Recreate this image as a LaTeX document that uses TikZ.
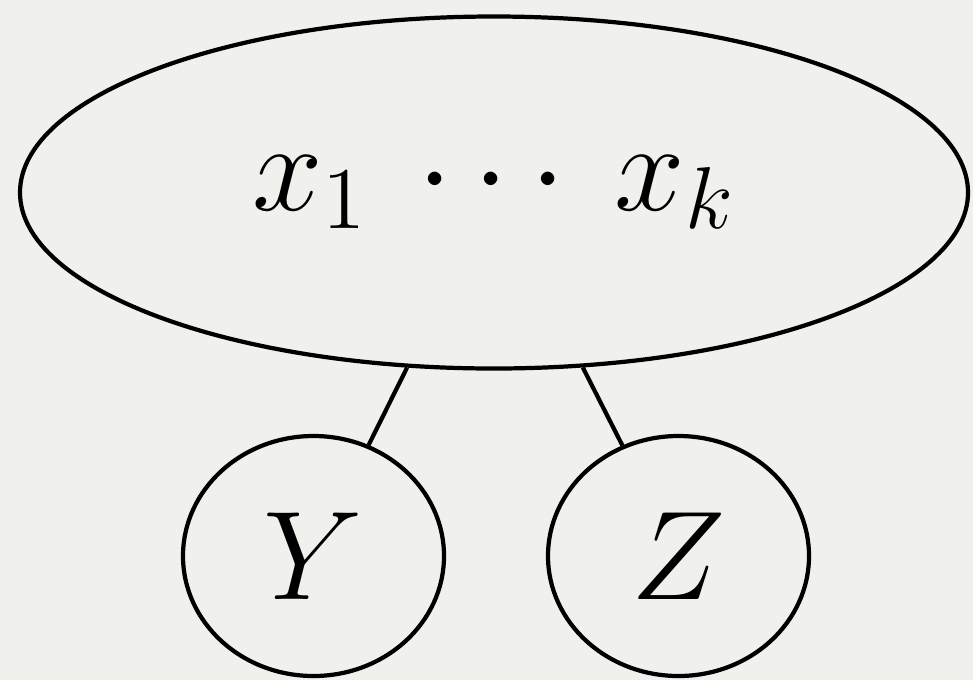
\documentclass[tikz,border=0pt]{standalone}
\usetikzlibrary{shapes.geometric}
\definecolor{bgc}{RGB}{240,241,236}
\newcommand{\bigtxt}[1]{\scalebox{1.736}{\huge #1}}
\begin{document}
\begin{tikzpicture}[
  bigell/.style={draw, line width=1.2pt, ellipse, inner sep=0pt, minimum width=9.48cm, minimum height=3.52cm},
  var/.style={draw, line width=1.2pt, ellipse, inner sep=0pt, minimum width=2.61cm, minimum height=2.40cm},
  link/.style={line width=1.2pt}
]
\fill[bgc] (0,0) rectangle (9.73,6.80);
\useasboundingbox (0,0) rectangle (9.73,6.80);
\node[bigell] (top) at (4.94,4.875) {};
\node[anchor=base, inner sep=0pt] (lbl) at (4.94,4.70) {\bigtxt{$x_1 \: \cdots \: x_k$}};
\node[var] (y) at (3.135,1.24) {\bigtxt{$Y$}};
\node[var] (z) at (6.785,1.24) {\bigtxt{$Z$}};
\draw[link] (top) -- (y);
\draw[link] (top) -- (z);
\end{tikzpicture}
\end{document}
